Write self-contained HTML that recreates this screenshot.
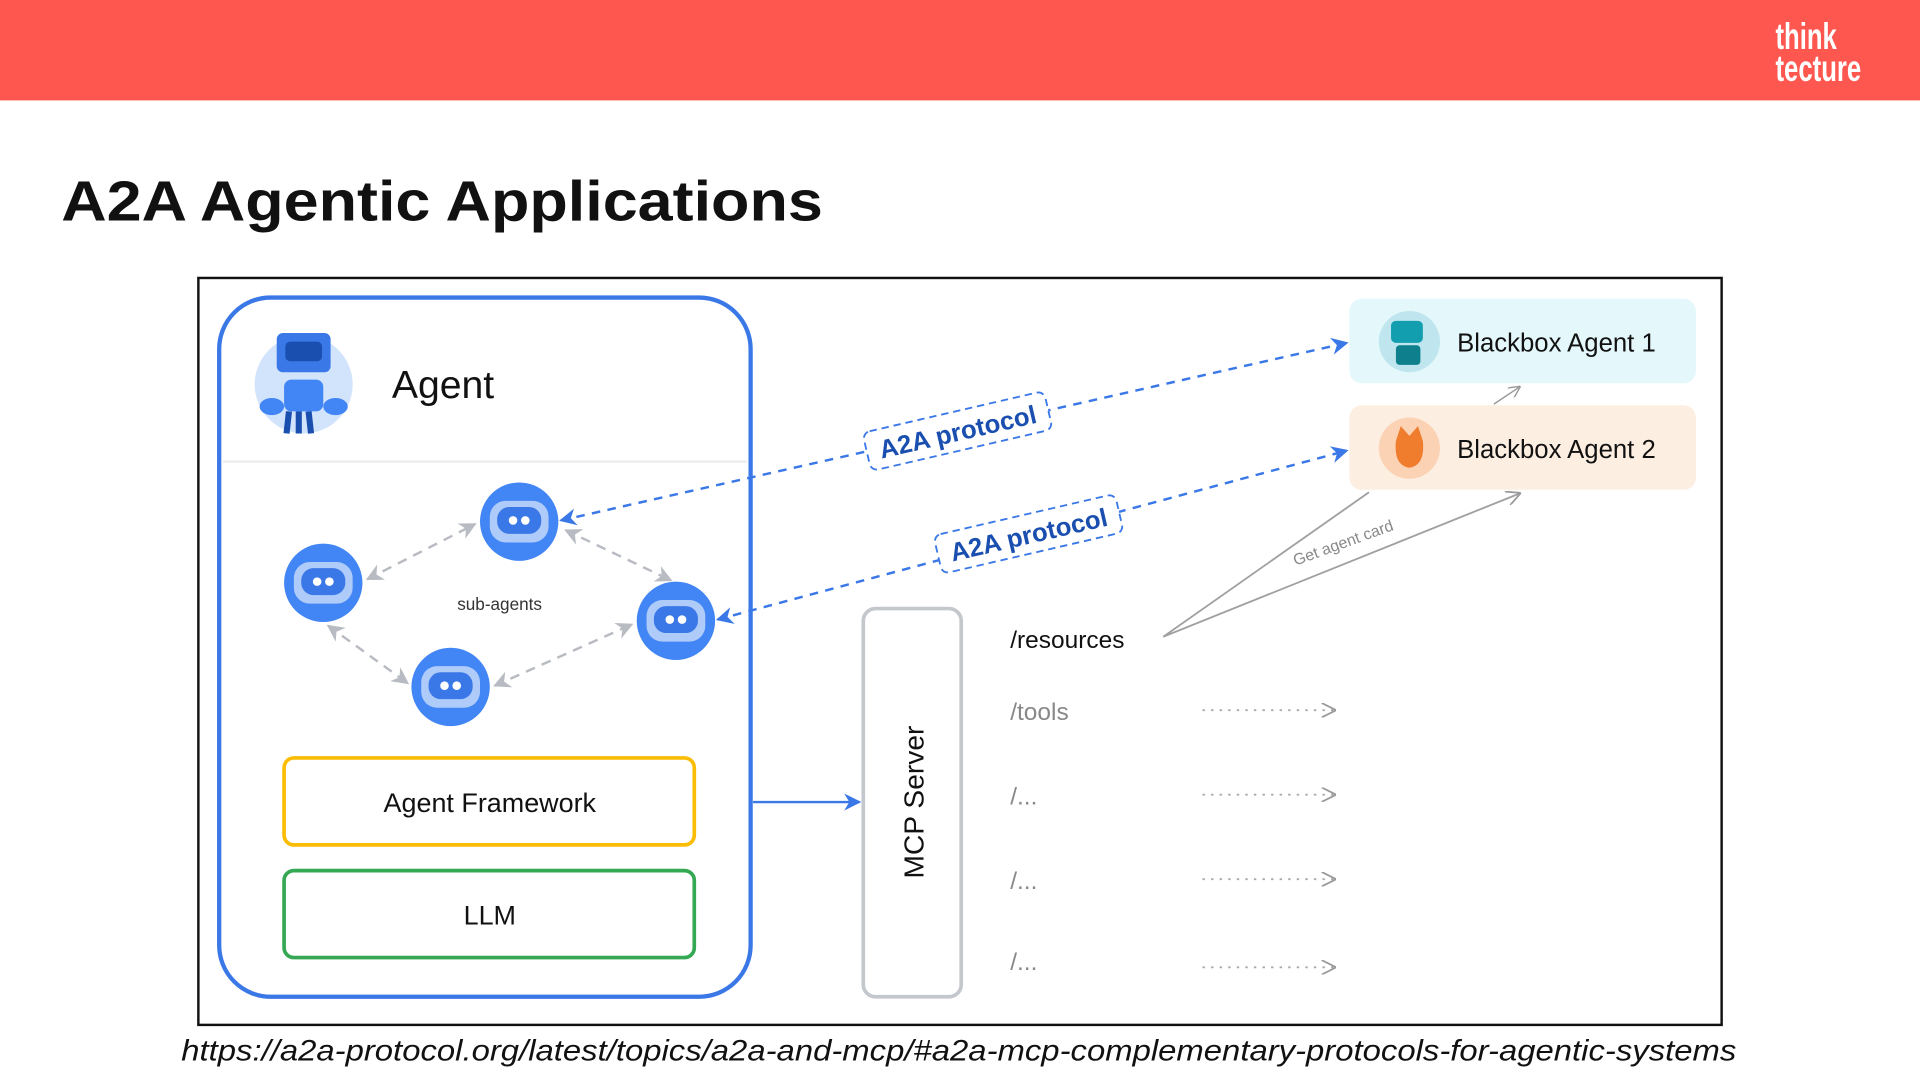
<!DOCTYPE html>
<html><head><meta charset="utf-8"><style>
html,body{margin:0;padding:0;background:#fff;}
svg{display:block;}
</style></head><body>
<svg width="1920" height="1080" viewBox="0 0 1568 882" xmlns="http://www.w3.org/2000/svg" font-family="Liberation Sans, sans-serif">
<defs>
<marker id="ab" viewBox="0 0 10 10" refX="9" refY="5" markerWidth="7" markerHeight="7" orient="auto-start-reverse"><path d="M0,0 L10,5 L0,10 L3,5z" fill="#3b78e7"/></marker>
<marker id="ag" viewBox="0 0 10 10" refX="9" refY="5" markerWidth="7" markerHeight="7" orient="auto-start-reverse"><path d="M0,0 L10,5 L0,10 L3,5z" fill="#b8bcc2"/></marker>
<marker id="ao" viewBox="0 0 10 10" refX="9" refY="5" markerWidth="8" markerHeight="8" orient="auto"><path d="M0,0 L10,5 L0,10" fill="none" stroke="#999" stroke-width="1.2"/></marker>
<g id="bot">
<circle r="32" fill="#4285f4"/>
<rect x="-24" y="-17" width="48" height="34" rx="13" fill="#aecbfa"/>
<rect x="-18" y="-12" width="36" height="22" rx="10" fill="#3b78e7"/>
<circle cx="-5" cy="-1" r="3.5" fill="#fff"/><circle cx="5" cy="-1" r="3.5" fill="#fff"/>
</g>
</defs>
<rect x="0" y="0" width="1568" height="82" fill="#fe574f"/>
<text x="1450" y="40" fill="#fff" font-size="30" font-weight="bold" textLength="50" lengthAdjust="spacingAndGlyphs">think</text>
<text x="1450" y="66" fill="#fff" font-size="30" font-weight="bold" textLength="70" lengthAdjust="spacingAndGlyphs">tecture</text>
<text x="50" y="180" font-size="46" font-weight="bold" fill="#111" textLength="622" lengthAdjust="spacingAndGlyphs">A2A Agentic Applications</text>
<rect x="162" y="227" width="1244" height="610" fill="#fff" stroke="#111" stroke-width="2"/>
<rect x="179" y="243" width="434" height="571" rx="42" fill="none" stroke="#3b78e7" stroke-width="3.5"/>
<line x1="182" y1="377" x2="610" y2="377" stroke="#eee" stroke-width="2"/>
<circle cx="248" cy="314" r="40" fill="#d2e3fc"/>
<rect x="226" y="272" width="44" height="32" rx="5" fill="#3b78e7"/>
<rect x="233" y="279" width="30" height="16" rx="4" fill="#1a4fb0"/>
<rect x="232" y="310" width="32" height="26" rx="6" fill="#4285f4"/>
<path d="M236 336 L234 354 M244 336 L244 354 M252 336 L254 354" stroke="#1a4fb0" stroke-width="5"/>
<ellipse cx="222" cy="332" rx="10" ry="7" fill="#4285f4"/><ellipse cx="274" cy="332" rx="10" ry="7" fill="#4285f4"/>
<text x="320" y="325" font-size="32" fill="#111">Agent</text>
<g stroke="#b8bcc2" stroke-width="2" stroke-dasharray="8 6" fill="none" marker-start="url(#ag)" marker-end="url(#ag)">
<line x1="300" y1="473" x2="388" y2="428"/>
<line x1="462" y1="433" x2="548" y2="474"/>
<line x1="268" y1="511" x2="333" y2="558"/>
<line x1="404" y1="560" x2="516" y2="510"/>
</g>
<use href="#bot" x="424" y="426"/>
<use href="#bot" x="264" y="476"/>
<use href="#bot" x="552" y="507"/>
<use href="#bot" x="368" y="561"/>
<text x="408" y="498" font-size="14" fill="#333" text-anchor="middle">sub-agents</text>
<rect x="232" y="619" width="335" height="71" rx="8" fill="none" stroke="#fbbc04" stroke-width="3"/>
<text x="400" y="663" font-size="22" fill="#111" text-anchor="middle">Agent Framework</text>
<rect x="232" y="711" width="335" height="71" rx="8" fill="none" stroke="#34a853" stroke-width="3"/>
<text x="400" y="755" font-size="22" fill="#111" text-anchor="middle">LLM</text>
<line x1="615" y1="655" x2="702" y2="655" stroke="#3b78e7" stroke-width="2" marker-end="url(#ab)"/>
<rect x="705" y="497" width="80" height="317" rx="10" fill="none" stroke="#c4c7cc" stroke-width="3"/>
<text transform="translate(754 655) rotate(-90)" font-size="23" fill="#111" text-anchor="middle">MCP Server</text>
<g stroke="#3b78e7" stroke-width="2" stroke-dasharray="7 6" fill="none">
<line x1="458" y1="425" x2="1100" y2="280" marker-start="url(#ab)" marker-end="url(#ab)"/>
<line x1="586" y1="506" x2="1100" y2="368" marker-start="url(#ab)" marker-end="url(#ab)"/>
</g>
<g transform="translate(782 352) rotate(-13)">
<rect x="-76" y="-16" width="152" height="32" rx="6" fill="#fff" stroke="#3b78e7" stroke-width="1.5" stroke-dasharray="6 4"/>
<text x="0" y="8" font-size="21" font-weight="bold" fill="#1a4fb0" text-anchor="middle">A2A protocol</text>
</g>
<g transform="translate(840 436) rotate(-13)">
<rect x="-76" y="-16" width="152" height="32" rx="6" fill="#fff" stroke="#3b78e7" stroke-width="1.5" stroke-dasharray="6 4"/>
<text x="0" y="8" font-size="21" font-weight="bold" fill="#1a4fb0" text-anchor="middle">A2A protocol</text>
</g>
<rect x="1102" y="244" width="283" height="69" rx="10" fill="#e4f7fb"/>
<circle cx="1151" cy="279" r="25" fill="#bfe6ee"/>
<rect x="1136" y="262" width="26" height="18" rx="4" fill="#129eaf"/><rect x="1140" y="282" width="20" height="16" rx="3" fill="#0e7f8d"/>
<text x="1190" y="287" font-size="21" fill="#111">Blackbox Agent 1</text>
<rect x="1102" y="331" width="283" height="69" rx="10" fill="#fdeee2"/>
<circle cx="1151" cy="366" r="25" fill="#fbd3b4"/>
<path d="M1140 360 L1144 348 L1151 356 L1158 348 L1162 360 Q1164 380 1151 382 Q1138 380 1140 360z" fill="#f07c2e"/>
<text x="1190" y="374" font-size="21" fill="#111">Blackbox Agent 2</text>
<line x1="1220" y1="330" x2="1241" y2="316" stroke="#999" stroke-width="1.2" marker-end="url(#ao)"/>
<path d="M950 520 L1118 402 M950 520 L1241 403" stroke="#a0a0a0" stroke-width="1.5" fill="none" marker-end="url(#ao)"/>
<text transform="translate(1058 462) rotate(-20)" font-size="13" fill="#888">Get agent card</text>
<text x="825" y="529" font-size="20" fill="#111">/resources</text>
<text x="825" y="588" font-size="20" fill="#888">/tools</text>
<text x="825" y="657" font-size="20" fill="#888">/...</text>
<text x="825" y="726" font-size="20" fill="#888">/...</text>
<text x="825" y="792" font-size="20" fill="#888">/...</text>
<g stroke="#aaa" stroke-width="1.5" stroke-dasharray="2 5" fill="none" marker-end="url(#ao)">
<line x1="982" y1="580" x2="1090" y2="580"/>
<line x1="982" y1="649" x2="1090" y2="649"/>
<line x1="982" y1="718" x2="1090" y2="718"/>
<line x1="982" y1="790" x2="1090" y2="790"/>
</g>
<text x="148" y="866" font-size="24" font-style="italic" fill="#111" textLength="1270" lengthAdjust="spacingAndGlyphs">https://a2a-protocol.org/latest/topics/a2a-and-mcp/#a2a-mcp-complementary-protocols-for-agentic-systems</text>
</svg>
</body></html>
